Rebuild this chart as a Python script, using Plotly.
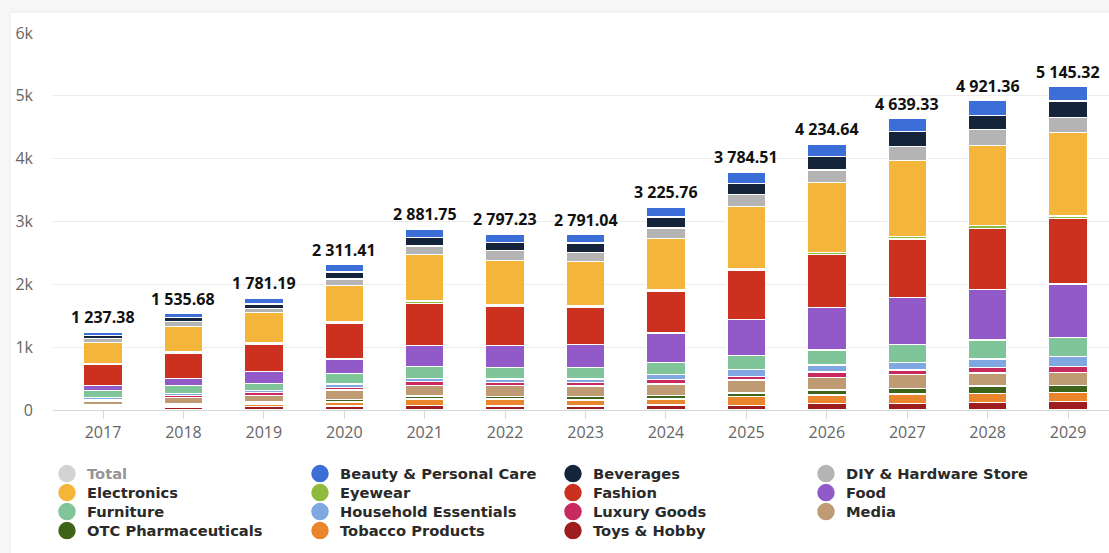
import plotly.graph_objects as go

years = [str(y) for y in range(2017, 2030)]
totals = [1237.38, 1535.68, 1781.19, 2311.41, 2881.75, 2797.23, 2791.04,
          3225.76, 3784.51, 4234.64, 4639.33, 4921.36, 5145.32]

# Segment values per category (bottom of the stack first)
toys = [32, 48, 53, 64, 68, 64, 64, 80, 75, 107, 107, 116, 131]
tobacco = [27, 32, 43, 64, 107, 111, 95, 95, 137, 132, 148, 150, 153]
otc = [21, 27, 32, 37, 48, 37, 53, 59, 59, 80, 91, 116, 107]
media = [59, 95, 107, 154, 164, 181, 170, 180, 207, 202, 223, 207, 212]
luxury = [21, 32, 41, 43, 64, 41, 53, 68, 59, 84, 68, 84, 95]
household = [37, 32, 38, 53, 54, 59, 59, 86, 111, 111, 123, 138, 151]
furniture = [111, 121, 111, 170, 191, 180, 180, 191, 216, 239, 286, 302, 301]
food = [80, 118, 185, 228, 328, 350, 372, 466, 573, 680, 742, 801, 856]
fashion = [341, 403, 441, 562, 675, 632, 589, 657, 791, 839, 933, 977, 1038]
eyewear = [16, 21, 21, 27, 37, 27, 21, 27, 27, 30, 38, 41, 45]
electronics = [326.38, 395.68, 477.19, 583.41, 732.75, 701.23, 703.04,
               817.76, 988.51, 1114.64, 1216.33, 1283.36, 1332.32]
diy = [70, 80, 70, 100, 143, 153, 150, 170, 191, 202, 223, 244, 236]
beverages = [48, 64, 68, 111, 132, 127, 148, 175, 170, 212, 234, 234, 259]
beauty = [48, 67, 94, 115, 138, 134, 134, 154, 180, 202, 207, 228, 229]

series = [
    ("Toys & Hobby", toys, "#9e1d1f"),
    ("Tobacco Products", tobacco, "#e8852d"),
    ("OTC Pharmaceuticals", otc, "#3f6419"),
    ("Media", media, "#bf9b74"),
    ("Luxury Goods", luxury, "#c92a5e"),
    ("Household Essentials", household, "#7fa7e1"),
    ("Furniture", furniture, "#80c599"),
    ("Food", food, "#9259c9"),
    ("Fashion", fashion, "#cc301e"),
    ("Eyewear", eyewear, "#8fba3c"),
    ("Electronics", electronics, "#f5b53b"),
    ("DIY & Hardware Store", diy, "#b4b4b4"),
    ("Beverages", beverages, "#14243a"),
    ("Beauty & Personal Care", beauty, "#3b6fd7"),
]

FONT = "Open Sans"
LEGEND_FONT = "DejaVu Sans"
LEGEND_IDS = ["legend", "legend2", "legend3", "legend4"]


def legend_for(rank):
    # four entries per legend row, alphabetical after "Total"
    return LEGEND_IDS[(rank - 1) // 4]


def legend_marker(color):
    return dict(symbol="circle", size=16, color=color,
                line=dict(color=color, width=1.5))


fig = go.Figure()

# Total series: hidden, only listed in the legend
fig.add_trace(go.Bar(x=years, y=totals, name="Total", visible="legendonly",
                     marker_color="#b0b0b0", showlegend=False, legendgroup="Total"))
fig.add_trace(go.Scatter(x=[None], y=[None], mode="markers", name="Total",
                         visible="legendonly", legendgroup="Total", legendrank=1,
                         legend=legend_for(1), marker=legend_marker("#a8a8a8")))

names_sorted = sorted(s[0] for s in series)
for name, vals, color in series:
    rank = 2 + names_sorted.index(name)
    fig.add_trace(go.Bar(
        x=years, y=vals, name=name, legendgroup=name, showlegend=False,
        marker=dict(color=color, line=dict(color="white", width=1.2)),
        hovertemplate="%{x}: %{y:.2f}<extra>" + name + "</extra>",
    ))
    fig.add_trace(go.Scatter(
        x=[None], y=[None], mode="markers", name=name, legendgroup=name,
        legendrank=rank, legend=legend_for(rank), marker=legend_marker(color),
    ))

# Total labels above each stack (category axis positions are indices)
for i, tot in enumerate(totals):
    fig.add_annotation(
        x=i, y=tot, text=f"{tot:,.2f}".replace(",", " "),
        showarrow=False, yanchor="bottom", yshift=2,
        font=dict(family=FONT, size=16, color="#111111", weight=700),
    )

# card background
fig.add_shape(type="rect", xref="paper", yref="paper", layer="below",
              x0=-0.0407, x1=1.2, y0=-1.0, y1=1.0557,
              fillcolor="white", line=dict(color="#ececec", width=1))

legend_common = dict(
    orientation="h", x=-0.0057, xanchor="left", yanchor="middle",
    entrywidth=208, entrywidthmode="pixels", tracegroupgap=0,
    font=dict(family=LEGEND_FONT, size=14.7, color="#2a2a2a", weight="bold"),
    bgcolor="rgba(0,0,0,0)",
)
row_y = [-0.1698, -0.2202, -0.2706, -0.3210]

fig.update_layout(
    width=1109, height=553,
    margin=dict(l=53, r=0, t=33, b=143, autoexpand=False),
    paper_bgcolor="#f6f6f6",
    plot_bgcolor="rgba(0,0,0,0)",
    barmode="stack",
    bargap=0.52,
    font=dict(family=FONT, color="#333333"),
    showlegend=True,
    legend=dict(legend_common, y=row_y[0]),
    legend2=dict(legend_common, y=row_y[1]),
    legend3=dict(legend_common, y=row_y[2]),
    legend4=dict(legend_common, y=row_y[3]),
    xaxis=dict(
        type="category", range=[-0.622, 12.509],
        showline=True, linecolor="#d8d8d8", linewidth=1,
        ticks="outside", ticklen=8, tickcolor="#d8d8d8",
        tickfont=dict(family=FONT, size=16, color="#666666"),
        showgrid=False,
    ),
    yaxis=dict(
        range=[0, 6000], dtick=1000, tickformat="~s",
        showgrid=True, gridcolor="#ebebeb", gridwidth=1,
        zeroline=False,
        tickfont=dict(family=FONT, size=16, color="#666666"),
        ticklabelstandoff=19,
    ),
)

fig.write_html("out.html")
